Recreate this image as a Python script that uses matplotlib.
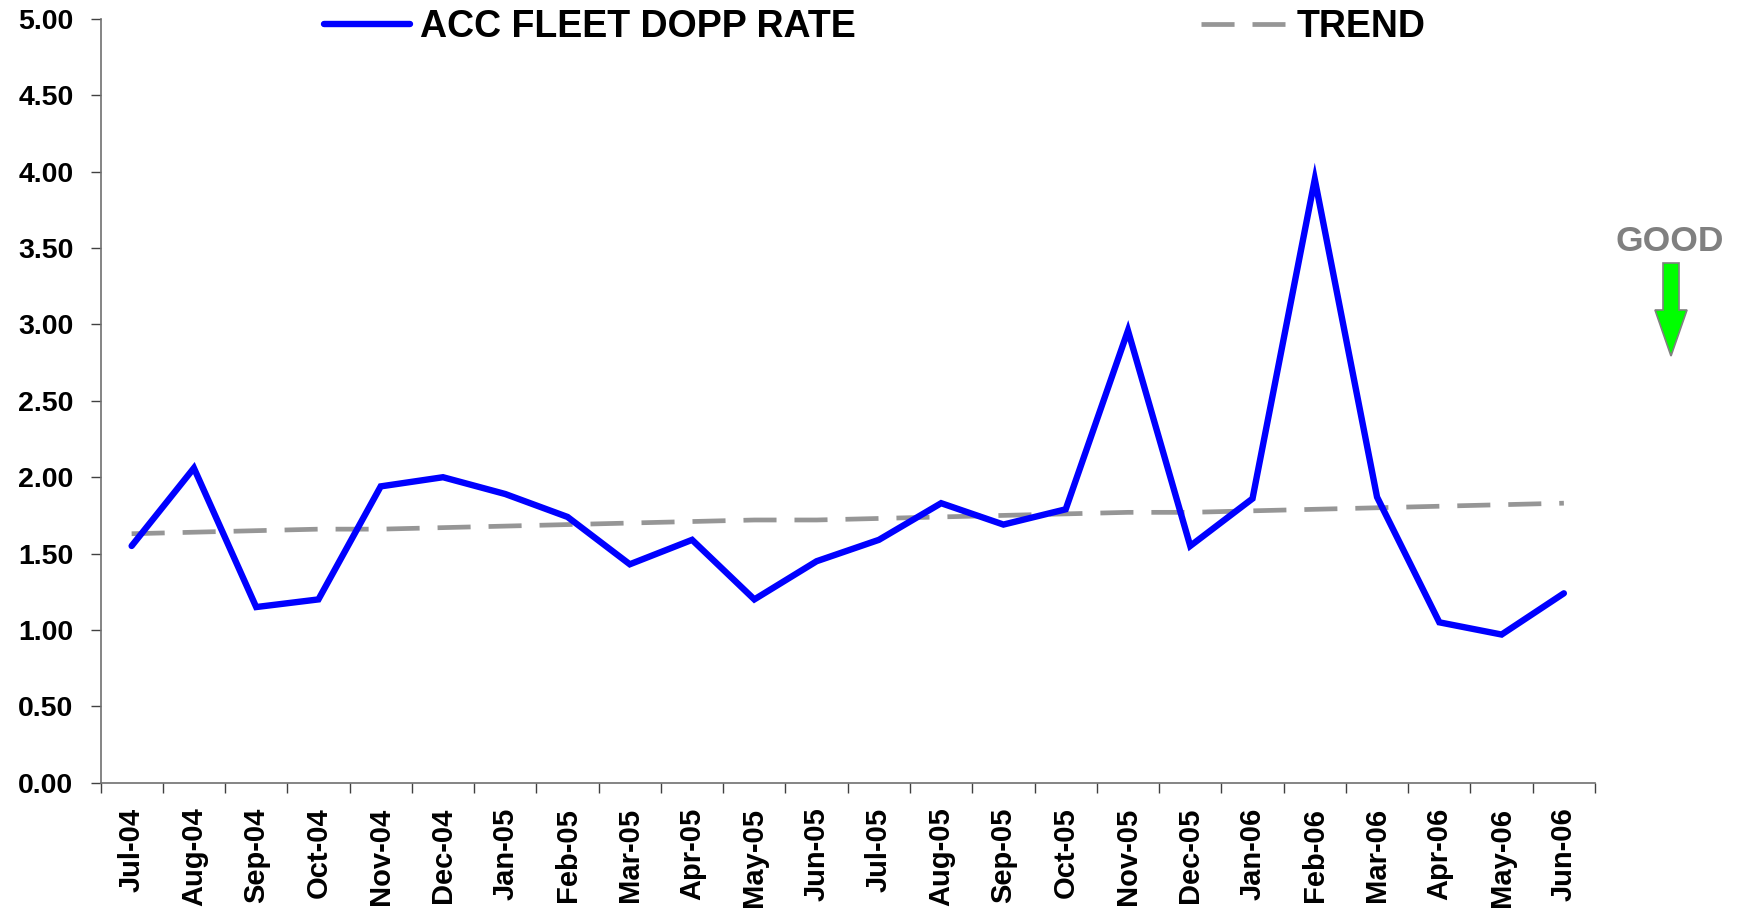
import matplotlib
matplotlib.use("Agg")
import matplotlib.pyplot as plt
from matplotlib.patches import Polygon
import numpy as np

plt.rcParams['font.family'] = ['Liberation Sans', 'DejaVu Sans']
plt.rcParams['font.weight'] = 'bold'

# monthly data
months = ["Jul-04", "Aug-04", "Sep-04", "Oct-04", "Nov-04", "Dec-04",
          "Jan-05", "Feb-05", "Mar-05", "Apr-05", "May-05", "Jun-05",
          "Jul-05", "Aug-05", "Sep-05", "Oct-05", "Nov-05", "Dec-05",
          "Jan-06", "Feb-06", "Mar-06", "Apr-06", "May-06", "Jun-06"]
dopp_rate = [1.55, 2.06, 1.15, 1.20, 1.94, 2.00,
             1.89, 1.74, 1.43, 1.59, 1.20, 1.45,
             1.59, 1.83, 1.69, 1.79, 2.96, 1.55,
             1.86, 3.95, 1.87, 1.05, 0.97, 1.24]
trend = [1.63, 1.64, 1.65, 1.66, 1.66, 1.67,
         1.68, 1.69, 1.70, 1.71, 1.72, 1.72,
         1.73, 1.74, 1.75, 1.76, 1.77, 1.77,
         1.78, 1.79, 1.80, 1.81, 1.82, 1.83]
y_ticks = [0.0, 0.5, 1.0, 1.5, 2.0, 2.5, 3.0, 3.5, 4.0, 4.5, 5.0]

W, H = 1739, 909
fig = plt.figure(figsize=(W / 100, H / 100), dpi=100)
ax = fig.add_axes([100.5 / W, 1 - 782.7 / H, (1595 - 100.5) / W, (782.7 - 19) / H])

x = np.arange(len(months))
line_dopp, = ax.plot(x, dopp_rate, color='#0000FF', lw=4.6, solid_joinstyle='miter',
                     solid_capstyle='round', zorder=3)
line_trend, = ax.plot(x, trend, color='#969696', lw=3.4, dashes=(7, 3.8), zorder=2)

ax.set_xlim(-0.5, len(months) - 0.5)
ax.set_ylim(0, 5)

# ticks between categories, labels at centres
ax.set_xticks(np.arange(-0.5, len(months), 1.0))
ax.set_xticklabels([])
ax.set_xticks(x, minor=True)
ax.set_xticklabels(months, minor=True, rotation=90, fontsize=21, fontweight='bold')
ax.tick_params(axis='x', which='major', length=7.5, width=1, color='#404040', direction='out')
ax.tick_params(axis='x', which='minor', length=0, pad=18)

ax.set_yticks(y_ticks)
ax.set_yticklabels(["%.2f" % v for v in y_ticks], fontsize=20.5, fontweight='bold')
ax.tick_params(axis='y', length=7.5, width=1, color='#404040', pad=12)

for side in ['top', 'right']:
    ax.spines[side].set_visible(False)
for side in ['left', 'bottom']:
    ax.spines[side].set_color('#707070')
    ax.spines[side].set_linewidth(1.2)

# legend entries placed separately, like the original
leg_font = {'size': 27, 'weight': 'bold'}
leg1 = ax.legend([line_dopp], ["ACC FLEET DOPP RATE"], loc='center left',
                 bbox_to_anchor=(324 / W, 1 - 27 / H), bbox_transform=fig.transFigure,
                 frameon=False, borderpad=0, borderaxespad=0, handlelength=2.3,
                 handletextpad=0.25, prop=leg_font)
ax.add_artist(leg1)
ax.legend([line_trend], ["TREND"], loc='center left',
          bbox_to_anchor=(1201 / W, 1 - 27 / H), bbox_transform=fig.transFigure,
          frameon=False, borderpad=0, borderaxespad=0, handlelength=2.25,
          handletextpad=0.3, prop=leg_font)

# "GOOD" with downward arrow
fig.text(1670 / W, 1 - 241 / H, "GOOD", color='#808080', fontsize=25.5,
         fontweight='bold', ha='center', va='center')
arrow_px = [(1663, 263), (1679, 263), (1679, 310), (1687, 310),
            (1671, 356), (1655, 310), (1663, 310)]
arrow = Polygon([(px / W, 1 - py / H) for px, py in arrow_px], closed=True,
                transform=fig.transFigure, facecolor='#00FF00', edgecolor='#808080', lw=1.2)
fig.patches.append(arrow)

fig.savefig("out.png", dpi=100)
